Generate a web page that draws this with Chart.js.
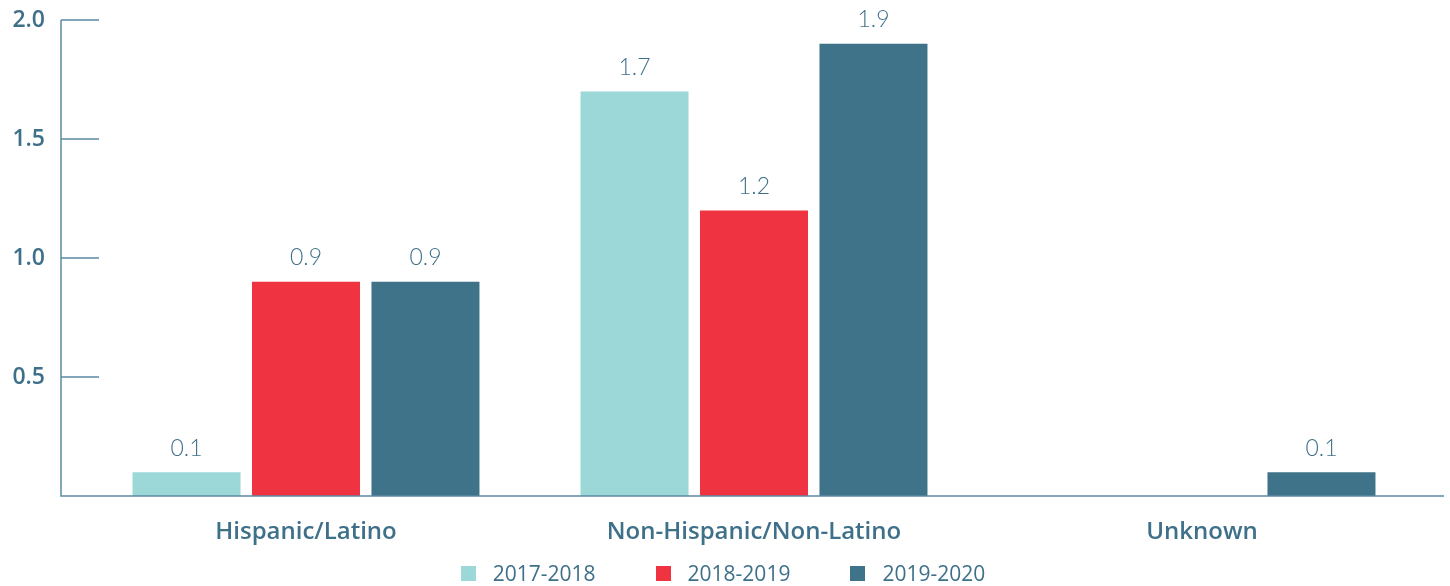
<!DOCTYPE html>
<html>
<head>
<meta charset="utf-8">
<script src="https://cdn.jsdelivr.net/npm/chart.js@4.4.0/dist/chart.umd.min.js"></script>
<style>
  html, body { margin: 0; padding: 0; background: #fff; }
  .wrap { position: relative; width: 1450px; height: 586px; }
  canvas { position: absolute; left: 0; top: 0; }
  .legend {
    position: absolute; left: -2px; top: 560px; width: 1450px; height: 26px;
    display: flex; justify-content: center; align-items: center;
    font-family: "Open Sans", Lato, sans-serif; font-size: 21px; color: #3f7089;
  }
  .legend span.item { display: flex; align-items: center; margin: 0 30px; }
  .legend i { display: inline-block; width: 15px; height: 15px; margin-right: 17px; }
</style>
</head>
<body>
<div class="wrap">
  <canvas id="chart-1" width="1450" height="586"></canvas>
  <div class="legend" id="legend"></div>
</div>
<script>
const categories = ['Hispanic/Latino', 'Non-Hispanic/Non-Latino', 'Unknown'];
const seriesNames = ['2017-2018', '2018-2019', '2019-2020'];
const values_2017 = [0.1, 1.7, null];
const values_2018 = [0.9, 1.2, null];
const values_2019 = [0.9, 1.9, 0.1];
const yTicks = [0.5, 1.0, 1.5, 2.0];

const colors = ['#9dd8d8', '#ef3340', '#3f7389'];
const textColor = '#3f7089';
const axisColor = '#5b8aa1';

// legend as html (box/text spacing is wider than chart.js allows)
document.getElementById('legend').innerHTML = seriesNames.map((n, i) =>
  `<span class="item"><i style="background:${colors[i]}"></i>${n}</span>`).join('');

// axis lines, ticks and y labels sit left of the bars, draw them by hand
const axisPlugin = {
  id: 'axisLines',
  afterDraw(chart) {
    const c = chart.ctx, y = chart.scales.y;
    const x0 = 61, bottom = y.getPixelForValue(0), top = y.getPixelForValue(2);
    c.save();
    c.strokeStyle = axisColor;
    c.lineWidth = 1.5;
    c.beginPath();
    c.moveTo(x0, top);
    c.lineTo(x0, bottom);
    c.lineTo(1444, bottom);
    yTicks.forEach(t => {
      const py = y.getPixelForValue(t);
      c.moveTo(x0, py);
      c.lineTo(99, py);
    });
    c.stroke();

    c.font = '600 23px "Open Sans", Lato, sans-serif';
    c.fillStyle = textColor;
    c.textAlign = 'right';
    c.textBaseline = 'middle';
    yTicks.forEach(t => c.fillText(t.toFixed(1), 45, y.getPixelForValue(t)));
    c.restore();
  }
};

const valueLabels = {
  id: 'valueLabels',
  afterDatasetsDraw(chart) {
    const c = chart.ctx;
    c.save();
    c.font = '300 23px Lato, "Open Sans", sans-serif';
    c.fillStyle = textColor;
    c.textAlign = 'center';
    c.textBaseline = 'middle';
    chart.data.datasets.forEach((ds, i) => {
      chart.getDatasetMeta(i).data.forEach((bar, j) => {
        if (ds.data[j] == null) return;
        c.fillText(ds.data[j].toFixed(1), bar.x, bar.y - 24);
      });
    });
    c.restore();
  }
};

new Chart(document.getElementById('chart-1'), {
  type: 'bar',
  data: {
    labels: categories,
    datasets: [
      { label: seriesNames[0], data: values_2017, backgroundColor: colors[0] },
      { label: seriesNames[1], data: values_2018, backgroundColor: colors[1] },
      { label: seriesNames[2], data: values_2019, backgroundColor: colors[2] }
    ]
  },
  options: {
    responsive: false,
    animation: false,
    layout: { padding: { top: 20, right: 24, left: 82, bottom: 26 } },
    datasets: { bar: { categoryPercentage: 0.80, barPercentage: 0.904 } },
    plugins: { legend: { display: false }, tooltip: { enabled: false } },
    scales: {
      x: {
        grid: { display: false, drawTicks: false },
        border: { display: false },
        ticks: {
          padding: 22,
          color: textColor,
          font: { family: '"Open Sans", Lato, sans-serif', size: 24, weight: 600 }
        },
        afterFit(scale) { scale.height = 64; }
      },
      y: {
        min: 0,
        max: 2,
        grid: { display: false, drawTicks: false },
        border: { display: false },
        ticks: { display: false },
        afterFit(scale) { scale.width = 0; }
      }
    }
  },
  plugins: [axisPlugin, valueLabels]
});
</script>
</body>
</html>
